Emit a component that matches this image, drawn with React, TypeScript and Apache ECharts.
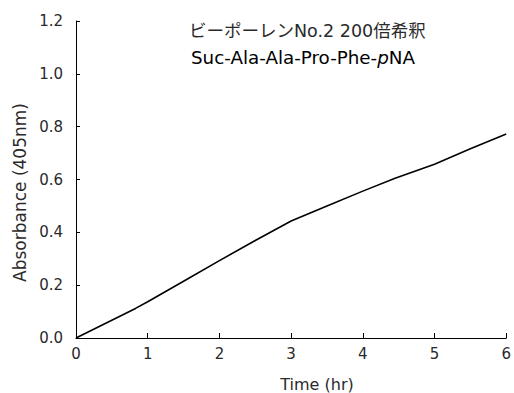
import React, { useEffect, useRef } from "react";
import * as echarts from "echarts";

const timeHr = [0, 0.83, 1, 1.5, 2, 2.5, 3, 3.5, 4, 4.45, 5, 5.5, 6];
const absorbance = [0, 0.112, 0.137, 0.215, 0.293, 0.369, 0.443, 0.5, 0.556, 0.605, 0.658, 0.716, 0.772];
const titleLine1 = "ビーポーレンNo.2 200倍希釈";
const titleLine2Parts = ["Suc-Ala-Ala-Pro-Phe-", "p", "NA"];
const xName = "Time (hr)";
const yName = "Absorbance (405nm)";

const FONT = "'DejaVu Sans', 'Noto Sans CJK JP', sans-serif";
const TXT = "#2a2a2a";

export default function App() {
  const ref = useRef<HTMLDivElement>(null);
  useEffect(() => {
    if (!ref.current) return;
    const chart = echarts.init(ref.current, null, { renderer: "svg" });
    chart.setOption({
      animation: false,
      backgroundColor: "#ffffff",
      textStyle: { fontFamily: FONT },
      grid: { left: 76, right: 2, top: 21, bottom: 55, containLabel: false },
      graphic: [
        {
          type: "text",
          x: 189,
          y: 31,
          style: { text: titleLine1, font: `17.5px ${FONT}`, fill: TXT, verticalAlign: "middle" },
        },
        {
          type: "text",
          x: 191,
          y: 57,
          style: {
            text: `{n|${titleLine2Parts[0]}}{i|${titleLine2Parts[1]}}{n|${titleLine2Parts[2]}}`,
            verticalAlign: "middle",
            rich: {
              n: { fontSize: 18.3, fontFamily: FONT, color: TXT },
              i: { fontSize: 18.3, fontFamily: FONT, fontStyle: "italic", color: TXT },
            },
          },
        },
        {
          type: "text",
          x: 19.5,
          y: 192.5,
          rotation: Math.PI / 2,
          style: {
            text: yName,
            font: `17px ${FONT}`,
            fill: TXT,
            align: "center",
            verticalAlign: "middle",
          },
        },
        {
          type: "text",
          x: 317,
          y: 384,
          style: {
            text: xName,
            font: `16px ${FONT}`,
            fill: TXT,
            align: "center",
            verticalAlign: "middle",
          },
        },
      ],
      xAxis: {
        type: "value",
        min: 0,
        max: 6,
        interval: 1,
        axisLine: { lineStyle: { color: "#000", width: 1 } },
        axisTick: { inside: true, length: 5, lineStyle: { color: "#000" } },
        axisLabel: { fontSize: 15, color: TXT, margin: 8, fontFamily: FONT },
        splitLine: { show: false },
      },
      yAxis: {
        type: "value",
        min: 0,
        max: 1.2,
        interval: 0.2,
        axisLine: { show: true, lineStyle: { color: "#000", width: 1 } },
        axisTick: { show: true, inside: true, length: 4, lineStyle: { color: "#000" } },
        axisLabel: {
          fontSize: 15,
          color: TXT,
          margin: 13,
          fontFamily: FONT,
          formatter: (v: number) => v.toFixed(1),
        },
        splitLine: { show: false },
      },
      series: [
        {
          type: "line",
          data: timeHr.map((t, i) => [t, absorbance[i]]),
          showSymbol: false,
          symbol: "none",
          lineStyle: { color: "#000", width: 1.6 },
          smooth: false,
        },
      ],
    });
    return () => chart.dispose();
  }, []);
  return <div ref={ref} style={{ width: 514, height: 393, position: "absolute", left: 0, top: 0 }} />;
}
